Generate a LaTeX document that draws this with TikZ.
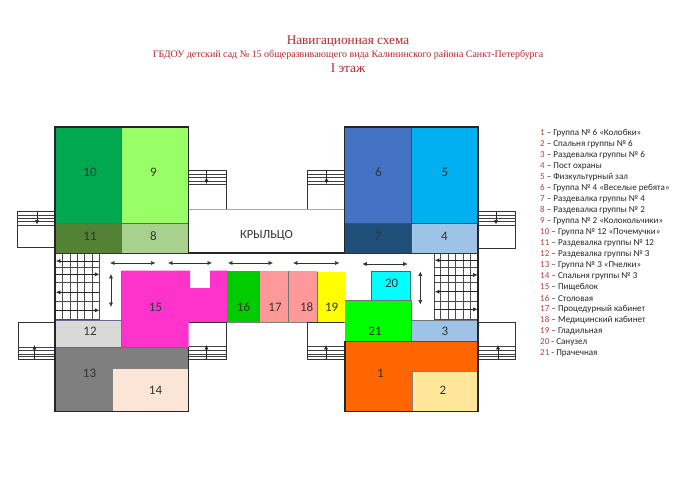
\documentclass[tikz,border=0pt]{standalone}
\usepackage{fontspec}
\setmainfont{Carlito}
\newfontfamily\titlefont{Liberation Serif}
\usetikzlibrary{arrows.meta}
\definecolor{titlered}{HTML}{B5262C}
\definecolor{numred}{HTML}{B8403C}
\definecolor{inktext}{HTML}{262626}
\tikzset{
  x=1bp,y=-1bp,
  roomtext/.style={font=\fontsize{13}{13}\selectfont,text=black!80,inner sep=0pt},
  titleline/.style={font=\titlefont,text=titlered,inner sep=0pt,anchor=center},
  legendline/.style={font=\fontsize{9.1}{10}\selectfont,text=inktext,inner sep=0pt,anchor=west},
  wall/.style={line width=1.3pt,draw=black!85},
  thin wall/.style={line width=0.8pt,draw=black!80},
  stairline/.style={line width=0.6pt,draw=black!75},
  gridline/.style={line width=0.7pt,draw=black!70},
  movearrow/.style={line width=0.6pt,draw=black!80,{Latex[length=4.5pt,width=4.2pt]}-{Latex[length=4.5pt,width=4.2pt]}},
  onearrow/.style={line width=0.6pt,draw=black!85,-{Latex[length=4.5pt,width=4.2pt]}},
}
\newcommand{\roomlabel}[3]{\node[roomtext] (lab#1) at (#2,#3) {#1};}
\newcommand{\biarrow}[5]{%
  \coordinate (#1a) at (#2,#3); \coordinate (#1b) at (#4,#5);
  \draw[movearrow] (#1a) -- (#1b);}
\newcommand{\onearr}[5]{%
  \coordinate (#1a) at (#2,#3); \coordinate (#1b) at (#4,#5);
  \draw[onearrow] (#1a) -- (#1b);}
\newcommand{\treads}[3]{\foreach \yy in {#3} {\draw[stairline] (#1,\yy) -- (#2,\yy);}}
\newcommand{\legenditem}[3]{\node[legendline] (leg#1) at (540,#2) {\textcolor{numred}{#1} #3};}
\begin{document}
\begin{tikzpicture}
\useasboundingbox (0,0) rectangle (695,489);
\fill[white] (0,0) rectangle (695,489);

% titles
\node[titleline,font=\titlefont\fontsize{13.3}{14}\selectfont] (t1) at (348,41.7) {Навигационная схема};
\node[titleline,font=\titlefont\fontsize{10}{12}\selectfont] (t2) at (348,55.5) {ГБДОУ детский сад № 15 общеразвивающего вида Калининского района Санкт-Петербурга};
\node[titleline,font=\titlefont\fontsize{13.3}{14}\selectfont] (t3) at (348,68) {I этаж};

% room fills
\fill[fill={rgb,255:red,0;green,168;blue,80}] (55,127) rectangle (121.5,223.3);
\fill[fill={rgb,255:red,153;green,255;blue,102}] (121.5,127) rectangle (188.5,223.3);
\fill[fill={rgb,255:red,84;green,130;blue,53}] (55,223.3) rectangle (121.5,253);
\fill[fill={rgb,255:red,169;green,209;blue,142}] (121.5,223.3) rectangle (188.5,253);
\fill[fill={rgb,255:red,68;green,114;blue,196}] (344.5,127) rectangle (411.7,223.3);
\fill[fill={rgb,255:red,0;green,176;blue,240}] (411.7,127) rectangle (478,223.3);
\fill[fill={rgb,255:red,31;green,78;blue,121}] (344.5,223.3) rectangle (411.7,253);
\fill[fill={rgb,255:red,157;green,195;blue,230}] (411.7,223.3) rectangle (478,253);
\fill[fill={rgb,255:red,217;green,217;blue,217}] (55,320) rectangle (121.5,347);
\fill[fill={rgb,255:red,127;green,127;blue,127}] (55,347) rectangle (188.5,411.7);
\fill[fill={rgb,255:red,251;green,229;blue,214}] (112.5,367.7) rectangle (188.5,411.7);
\fill[fill={rgb,255:red,255;green,51;blue,204}] (121.5,270.7) -- (190,270.7) -- (190,288) -- (210,288) -- (210,270.7) -- (227.5,270.7) -- (227.5,322.3) -- (188.5,322.3) -- (188.5,347) -- (121.5,347) -- cycle;
\fill[fill={rgb,255:red,0;green,204;blue,0}] (227.5,270.7) rectangle (259,322.3);
\fill[fill={rgb,255:red,255;green,153;blue,153}] (259,270.7) rectangle (317,322.3);
\fill[fill={rgb,255:red,255;green,255;blue,0}] (317,271.5) rectangle (344.5,322.3);
\fill[fill={rgb,255:red,0;green,255;blue,255}] (371.3,271) rectangle (410.7,300.3);
\fill[fill={rgb,255:red,0;green,255;blue,0}] (345,300.3) rectangle (411,341);
\fill[fill={rgb,255:red,157;green,195;blue,230}] (411,320) rectangle (478,341);
\fill[fill={rgb,255:red,255;green,102;blue,0}] (345,341) rectangle (478,411.7);
\fill[fill={rgb,255:red,255;green,230;blue,153}] (411.7,371.3) rectangle (478,411.7);

% inner borders
\draw[line width=0.5pt,black!60] (121.5,127) -- (121.5,253) (55,223.3) -- (188.5,223.3);
\draw[line width=0.5pt,black!70] (411.7,127) -- (411.7,253) (344.5,223.3) -- (478,223.3);
\draw[line width=0.4pt,gray!80!blue] (55,320) -- (121.5,320) (55,347) -- (188.5,347);
\draw[line width=0.4pt,black!50] (112.5,411.7) -- (112.5,367.7) -- (188.5,367.7);
\draw[line width=0.5pt,black!55] (121.5,347) -- (121.5,270.7);
\draw[line width=0.5pt,black!55] (259,270.7) -- (259,322.3) (288,270.7) -- (288,322.3);
\draw[line width=0.5pt,black!55] (227.5,270.7) -- (227.5,322.3);
\draw[line width=0.5pt,black!55] (317,271.5) -- (317,322.3);
\draw[line width=0.5pt,black!50] (188.5,322.3) -- (344.5,322.3);
\draw[line width=0.5pt,teal] (371.3,300.3) -- (371.3,271) -- (410.7,271) -- (410.7,300.3);
\draw[line width=0.4pt,black!55] (345,300.3) -- (411,300.3) -- (411,341) (411,320) -- (478,320);
\draw[line width=0.5pt,black!70] (345,341) -- (478,341);
\draw[line width=0.4pt,black!50] (411.7,411.7) -- (411.7,371.3) -- (478,371.3);

% stairs
\draw[thin wall] (54,211.7) -- (17,211.7) -- (17,247.7) -- (54,247.7);
\treads{17}{54}{215,218.3,221.7,225}
\onearr{s1}{37}{212}{37}{224.5}
\draw[thin wall] (189,170.7) -- (226,170.7) -- (226,209);
\treads{189}{226}{174,177.5,181,184.5}
\onearr{s2}{206.5}{171}{206.5}{184}
\draw[thin wall] (344,170.7) -- (307.5,170.7) -- (307.5,209);
\treads{307.5}{344}{174,177.5,181,184.5}
\onearr{s3}{326.5}{171}{326.5}{184}
\draw[thin wall] (478,211.7) -- (515.7,211.7) -- (515.7,248) -- (478,248);
\treads{478}{515.7}{215,218.3,221.7,225}
\onearr{s4}{496}{212}{496}{224.5}
\draw[thin wall] (55,322) -- (18,322) -- (18,359.3) -- (55,359.3);
\treads{18}{55}{347.3,350.7,354,356.7}
\onearr{s5}{34.5}{359}{34.5}{345}
\draw[thin wall] (189,322.3) -- (226,322.3) -- (226,359.3) -- (189,359.3);
\treads{189}{226}{346,350,354,356.7}
\onearr{s6}{206.5}{359}{206.5}{345}
\draw[thin wall] (344,322.3) -- (307.7,322.3) -- (307.7,359.3) -- (344,359.3);
\treads{307.7}{344}{346,350,354,356.7}
\onearr{s7}{326}{359}{326}{345}
\draw[thin wall] (478,322.3) -- (515.7,322.3) -- (515.7,359.3) -- (478,359.3);
\treads{478}{515.7}{346,350,354,356.7}
\onearr{s8}{498}{359}{498}{345}

% porch
\draw[line width=0.9pt,black!35] (189,209) -- (344,209);
\draw[wall] (188.5,253) -- (344.5,253);
\node[roomtext,font=\fontsize{12.5}{13}\selectfont] (porch) at (266.5,235) {КРЫЛЬЦО};

% stair grids
\foreach \xx in {62.3,70,77.3,84.7,92,99.3} {\draw[gridline] (\xx,253) -- (\xx,320);}
\foreach \yy in {267.3,301.7,319.3} {\draw[gridline] (55,\yy) -- (99.3,\yy);}
\draw[gridline,line width=1.1pt] (55,282.3) -- (99.3,282.3);
\foreach \xx in {440.7,448,455.3,463,470,434} {\draw[gridline] (\xx,253) -- (\xx,320);}
\foreach \yy in {267.3,301,319} {\draw[gridline] (434,\yy) -- (478,\yy);}
\draw[gridline,line width=1.3pt] (434,282.7) -- (478,282.7);
\onearr{g1}{99.3}{261}{56}{261}
\onearr{g2}{55}{274.3}{99.3}{274.3}
\onearr{g3}{99.3}{292.3}{56}{292.3}
\onearr{g4}{55}{310.3}{99.3}{310.3}
\onearr{g5}{478}{260.3}{435}{260.3}
\onearr{g6}{434}{275}{477.5}{275}
\onearr{g7}{478}{291.7}{435}{291.7}
\onearr{g8}{434}{309.3}{477.5}{309.3}

% outer walls
\draw[wall] (55,253) -- (55,127) -- (188.5,127) -- (188.5,253);
\draw[wall] (344.5,253) -- (344.5,127) -- (478,127) -- (478,411.7) -- (345,411.7) -- (345,341);
\draw[thin wall] (344.5,253) -- (478,253);
\draw[thin wall] (55,253) -- (188.5,253);
\draw[wall] (55,253) -- (55,411.7) -- (188.5,411.7) -- (188.5,347);

% corridor arrows
\biarrow{c1}{110}{263}{155.5}{263}
\biarrow{c2}{168}{263}{212}{263}
\biarrow{c3}{228}{263}{273}{263}
\biarrow{c4}{293}{263}{339.5}{263}
\biarrow{c5}{362.3}{264}{407.7}{264}
\biarrow{c6}{111}{274}{111}{307}
\biarrow{c7}{420.3}{271.5}{420.3}{304.5}

% room numbers
\roomlabel{10}{90}{172}
\roomlabel{9}{153.5}{172}
\roomlabel{11}{90}{236}
\roomlabel{8}{153.5}{236}
\roomlabel{6}{378.3}{172}
\roomlabel{5}{445}{172}
\roomlabel{7}{378}{236}
\roomlabel{4}{444.5}{236}
\roomlabel{12}{90}{331}
\roomlabel{13}{89.5}{373}
\roomlabel{14}{155.5}{390}
\roomlabel{15}{155.5}{307.5}
\roomlabel{16}{243.5}{307.5}
\roomlabel{17}{275}{307.5}
\roomlabel{18}{306.7}{307.5}
\roomlabel{19}{331.7}{307.5}
\roomlabel{20}{391.7}{283.5}
\roomlabel{21}{375}{331.5}
\roomlabel{3}{445}{331}
\roomlabel{1}{380.5}{373}
\roomlabel{2}{443}{390}

% legend
\legenditem{1}{132.7}{– Группа № 6 «Колобки»}
\legenditem{2}{143.8}{– Спальня группы № 6}
\legenditem{3}{154.9}{– Раздевалка группы № 6}
\legenditem{4}{166}{– Пост охраны}
\legenditem{5}{177.1}{– Физкультурный зал}
\legenditem{6}{188.2}{– Группа № 4 «Веселые ребята»}
\legenditem{7}{199.3}{– Раздевалка группы № 4}
\legenditem{8}{210.4}{– Раздевалка группы № 2}
\legenditem{9}{221.5}{– Группа № 2 «Колокольчики»}
\legenditem{10}{232.6}{– Группа № 12 «Почемучки»}
\legenditem{11}{243.5}{– Раздевалка группы № 12}
\legenditem{12}{254.5}{– Раздевалка группы № 3}
\legenditem{13}{265.5}{– Группа № 3 «Пчелки»}
\legenditem{14}{276.5}{– Спальня группы № 3}
\legenditem{15}{287.5}{– Пищеблок}
\legenditem{16}{298.5}{– Столовая}
\legenditem{17}{309.5}{– Процедурный кабинет}
\legenditem{18}{320.5}{– Медицинский кабинет}
\legenditem{19}{331.5}{– Гладильная}
\legenditem{20}{342.5}{- Санузел}
\legenditem{21}{353.5}{- Прачечная}
\end{tikzpicture}
\end{document}
